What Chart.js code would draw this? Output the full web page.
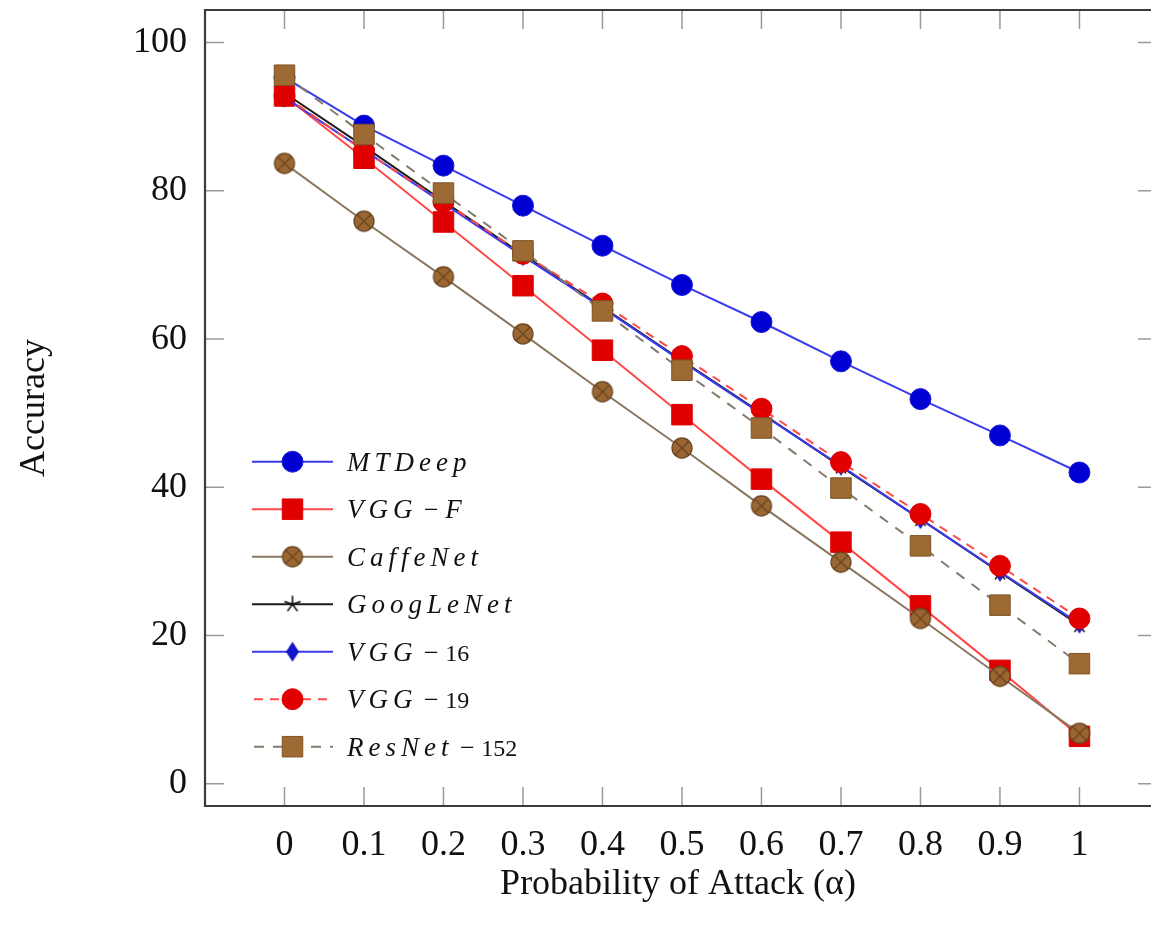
<!DOCTYPE html>
<html><head><meta charset="utf-8">
<script src="https://cdn.jsdelivr.net/npm/chart.js@4.4.0/dist/chart.umd.min.js"></script>
<style>html,body{margin:0;padding:0;background:#fff;}canvas{display:block;}</style>
</head><body>
<canvas id="c" width="1151" height="932"></canvas>
<script>
// ---- data ----
const alpha = [0, 0.1, 0.2, 0.3, 0.4, 0.5, 0.6, 0.7, 0.8, 0.9, 1];
const xTickLabels = ['0', '0.1', '0.2', '0.3', '0.4', '0.5', '0.6', '0.7', '0.8', '0.9', '1'];
const yTickValues = [0, 20, 40, 60, 80, 100];
const mtdeep    = [95.3, 88.8, 83.4, 78.0, 72.6, 67.3, 62.3, 57.0, 51.9, 47.0, 42.0];
const vggF      = [92.8, 84.4, 75.8, 67.2, 58.5, 49.8, 41.1, 32.6, 24.0, 15.3, 6.4];
const caffeNet  = [83.7, 75.9, 68.4, 60.7, 52.9, 45.3, 37.5, 29.9, 22.3, 14.5, 6.8];
const googLeNet = [93.2, 86.0, 78.6, 71.4, 64.3, 57.1, 50.0, 42.8, 35.7, 28.5, 21.4];
const vgg16     = [92.6, 85.5, 78.3, 71.2, 64.2, 57.0, 49.9, 42.9, 35.7, 28.6, 21.6];
const vgg19     = [92.8, 85.4, 78.5, 71.5, 64.8, 57.7, 50.6, 43.4, 36.4, 29.4, 22.3];
const resNet152 = [95.6, 87.6, 79.7, 71.9, 63.8, 55.8, 48.0, 39.9, 32.1, 24.1, 16.2];
const seriesLabels = [
  [['MTDeep', true]],
  [['VGG', true], [' \u2212 ', false], ['F', true]],
  [['CaffeNet', true]],
  [['GoogLeNet', true]],
  [['VGG', true], [' \u2212 ', false], ['16', false]],
  [['VGG', true], [' \u2212 ', false], ['19', false]],
  [['ResNet', true], [' \u2212 ', false], ['152', false]]
];

// ---- custom markers ----
function mk(w, h, draw) {
  const c = document.createElement('canvas'); c.width = w; c.height = h;
  draw(c.getContext('2d'), w / 2, h / 2); return c;
}
const otimes = mk(24, 24, (g, cx, cy) => {
  g.beginPath(); g.arc(cx, cy, 10, 0, Math.PI * 2);
  g.fillStyle = '#9a6632'; g.fill();
  g.lineWidth = 1.3; g.strokeStyle = '#6a4520'; g.stroke();
  const r = 7.07;
  g.beginPath(); g.moveTo(cx - r, cy - r); g.lineTo(cx + r, cy + r);
  g.moveTo(cx + r, cy - r); g.lineTo(cx - r, cy + r); g.stroke();
});
const star = mk(22, 22, (g, cx, cy) => {
  g.strokeStyle = '#111'; g.lineWidth = 1.6; g.beginPath();
  for (let k = 0; k < 5; k++) {
    const a = -Math.PI / 2 + k * 2 * Math.PI / 5;
    g.moveTo(cx, cy); g.lineTo(cx + 8.5 * Math.cos(a), cy + 8.5 * Math.sin(a));
  }
  g.stroke();
});
const diamond = mk(16, 24, (g, cx, cy) => {
  g.beginPath(); g.moveTo(cx, cy - 10); g.lineTo(cx + 6.5, cy); g.lineTo(cx, cy + 10); g.lineTo(cx - 6.5, cy); g.closePath();
  g.fillStyle = '#1414c8'; g.fill();
});

const toXY = arr => alpha.map((x, i) => ({ x: x, y: arr[i] }));

const datasets = [
  { data: toXY(mtdeep), borderColor: '#3b3bee', borderWidth: 2, pointStyle: 'circle', pointRadius: 10.5, pointBackgroundColor: '#0000d2', pointBorderColor: '#1a1ad8', pointBorderWidth: 1 },
  { data: toXY(vggF), borderColor: '#ff4848', borderWidth: 2, pointStyle: 'rect', pointRadius: 14.5, pointBackgroundColor: '#e00000', pointBorderColor: '#e00000', pointBorderWidth: 1 },
  { data: toXY(caffeNet), borderColor: '#8a7760', borderWidth: 2, pointStyle: otimes, pointRadius: 11 },
  { data: toXY(googLeNet), borderColor: '#1a1a1a', borderWidth: 2, pointStyle: star, pointRadius: 9 },
  { data: toXY(vgg16), borderColor: '#3b3bee', borderWidth: 2, pointStyle: diamond, pointRadius: 10 },
  { data: toXY(vgg19), borderColor: '#ff4848', borderWidth: 2, borderDash: [9, 7], pointStyle: 'circle', pointRadius: 10.5, pointBackgroundColor: '#e00000', pointBorderColor: '#e00000', pointBorderWidth: 1 },
  { data: toXY(resNet152), borderColor: '#857a6c', borderWidth: 2, borderDash: [10, 9], pointStyle: 'rect', pointRadius: 14.5, pointBackgroundColor: '#9c6a32', pointBorderColor: '#7e5426', pointBorderWidth: 1 }
].map((d, i) => Object.assign({ fill: false, tension: 0, order: 6 - i, label: seriesLabels[i].map(p => p[0]).join('') }, d));

const SERIF = "'Liberation Serif', 'DejaVu Serif', serif";

const frameTicks = {
  id: 'frameTicks',
  beforeDatasetsDraw(chart) {
    const { ctx, chartArea: a, scales } = chart;
    const rightFrame = a.right + 6;
    ctx.save();
    ctx.strokeStyle = '#9a9a9a'; ctx.lineWidth = 1.5;
    ctx.beginPath();
    scales.x.ticks.forEach(t => {
      const px = scales.x.getPixelForValue(t.value);
      ctx.moveTo(px, a.bottom); ctx.lineTo(px, a.bottom - 19);
      ctx.moveTo(px, a.top); ctx.lineTo(px, a.top + 19);
    });
    scales.y.ticks.forEach(t => {
      const py = scales.y.getPixelForValue(t.value);
      ctx.moveTo(a.left, py); ctx.lineTo(a.left + 19, py);
      ctx.moveTo(rightFrame, py); ctx.lineTo(rightFrame - 19, py);
    });
    ctx.stroke();
    ctx.strokeStyle = '#3c3c3c'; ctx.lineWidth = 2.2;
    ctx.beginPath();
    ctx.moveTo(a.right + 2, a.top); ctx.lineTo(a.left, a.top); ctx.lineTo(a.left, a.bottom); ctx.lineTo(a.right + 2, a.bottom);
    ctx.stroke();
    ctx.restore();
  }
};

const legendPlugin = {
  id: 'customLegend',
  afterDatasetsDraw(chart) {
    const ctx = chart.ctx;
    const x0 = 252, x1 = 333, xm = 292.5, tx = 347, y0 = 461.7, dy = 47.5;
    chart.data.datasets.forEach((ds, i) => {
      const y = y0 + i * dy;
      ctx.save();
      ctx.strokeStyle = ds.borderColor; ctx.lineWidth = ds.borderWidth;
      ctx.setLineDash(ds.borderDash || []);
      ctx.lineDashOffset = ds.borderDash ? -2 : 0;
      ctx.beginPath(); ctx.moveTo(x0, y); ctx.lineTo(x1, y); ctx.stroke();
      ctx.setLineDash([]);
      ctx.fillStyle = ds.pointBackgroundColor || '#000';
      ctx.strokeStyle = ds.pointBorderColor || '#000';
      ctx.lineWidth = ds.pointBorderWidth || 0;
      Chart.helpers.drawPoint(ctx, { pointStyle: ds.pointStyle, radius: ds.pointRadius, borderWidth: ds.pointBorderWidth || 0, rotation: 0 }, xm, y);
      let x = tx;
      ctx.fillStyle = '#111';
      ctx.textBaseline = 'alphabetic';
      seriesLabels[i].forEach(([txt, ital]) => {
        if (ital) {
          ctx.font = "italic 27px " + SERIF;
          ctx.letterSpacing = '5px';
        } else if (/\d/.test(txt)) {
          ctx.font = "24px " + SERIF; ctx.letterSpacing = '0px';
        } else {
          ctx.font = "26px " + SERIF; ctx.letterSpacing = '0px';
        }
        ctx.fillText(txt, x, y + 9);
        x += ctx.measureText(txt).width;
      });
      ctx.restore();
    });
  }
};

new Chart(document.getElementById('c'), {
  type: 'line',
  data: { datasets: datasets },
  options: {
    responsive: false,
    animation: false,
    layout: { autoPadding: false, padding: { top: 10, right: 0, left: 0, bottom: 0 } },
    plugins: { legend: { display: false }, tooltip: { enabled: false } },
    scales: {
      x: {
        type: 'linear', min: -0.1, max: 1.09,
        afterBuildTicks: s => { s.ticks = alpha.map(v => ({ value: v })); },
        afterFit: s => { s.height = 126; s.paddingLeft = 0; s.paddingRight = 0; },
        grid: { display: false, drawTicks: false },
        border: { display: false },
        ticks: {
          autoSkip: false, maxRotation: 0, padding: 18, color: '#111',
          font: { family: SERIF, size: 36 },
          callback: (v, i) => xTickLabels[i]
        },
        title: { display: true, text: 'Probability of Attack (\u03B1)', color: '#111', font: { family: SERIF, size: 36 }, padding: { top: 0, bottom: 26 } }
      },
      y: {
        type: 'linear', min: -3, max: 104.4,
        afterBuildTicks: s => { s.ticks = yTickValues.map(v => ({ value: v })); },
        afterFit: s => { s.width = 205; s.paddingTop = 0; s.paddingBottom = 0; },
        grid: { display: false, drawTicks: false },
        border: { display: false },
        ticks: { padding: 18, color: '#111', font: { family: SERIF, size: 36 }, callback: v => String(v) },
        title: { display: true, text: 'Accuracy', color: '#111', font: { family: SERIF, size: 36 }, padding: { top: 13, bottom: 0 } }
      }
    }
  },
  plugins: [frameTicks, legendPlugin]
});
</script>
</body></html>
